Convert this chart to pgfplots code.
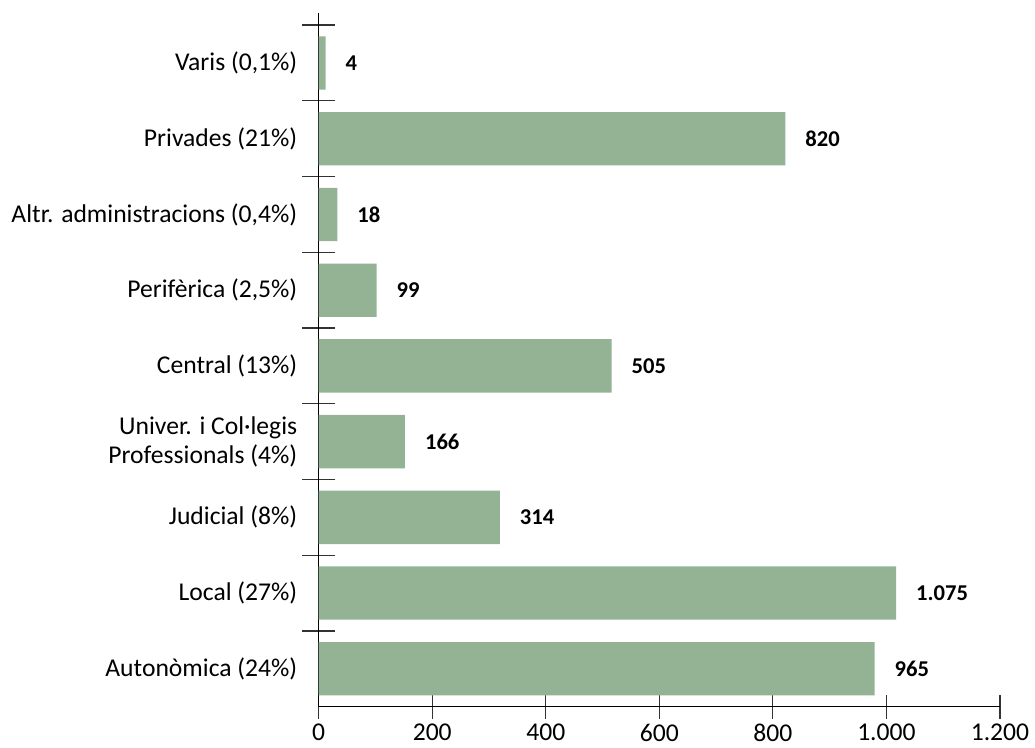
\documentclass[border=0pt]{standalone}
\usepackage{fontspec}
\setmainfont{Carlito}
\usepackage{pgfplots}
\pgfplotsset{compat=1.18}
\definecolor{barcol}{RGB}{148,179,148}

\begin{document}
\begin{tikzpicture}
\useasboundingbox (-159.35pt,-20.6pt) rectangle (358.15pt,353.35pt);
\begin{axis}[
    at={(0,0)}, anchor=south west,
    scale only axis,
    width=340.65pt, height=346.85pt,
    xbar, bar width=26.65pt,
    xmin=0, xmax=1200, ymin=-0.5, ymax=8.66,
    axis lines*=left,
    axis line style={line width=0.7pt, black},
    clip=false,
    xtick={0,200,...,1200},
    ytick={0,...,8},
    yticklabels={Autonòmica (24\%),Local (27\%),Judicial (8\%),
      {Univer. i Col·legis\\Professionals (4\%)},Central (13\%),
      Perifèrica (2{,}5\%),Altr. administracions (0{,}4\%),
      Privades (21\%),Varis (0{,}1\%)},
    minor ytick={0.5,1.5,...,8.5},
    tick align=center,
    major tick length=12pt,
    minor tick length=16.5pt,
    tick style={line width=0.6pt, black!80},
    major y tick style={draw=none},
    tick label style={font=\fontsize{12.8}{14.7}\selectfont},
    yticklabel style={align=right, xshift=-1.2pt},
    xticklabel style={inner ysep=0pt, yshift=-2.4pt},
    /pgf/number format/assume math mode=true,
    /pgf/number format/1000 sep={.},
    nodes near coords,
    point meta=explicit symbolic,
    nodes near coords style={anchor=west, xshift=6.5pt,
      font=\fontsize{11.3}{13}\selectfont\bfseries},
  ]
  \addplot[fill=barcol, draw=none] table[meta=lab] {
    x    y  lab
    979  0  965
    1017 1  1.075
    319  2  314
    152  3  166
    516  4  505
    102  5  99
    33   6  18
    822  7  820
    12   8  4
  };
\end{axis}
\end{tikzpicture}
\end{document}
